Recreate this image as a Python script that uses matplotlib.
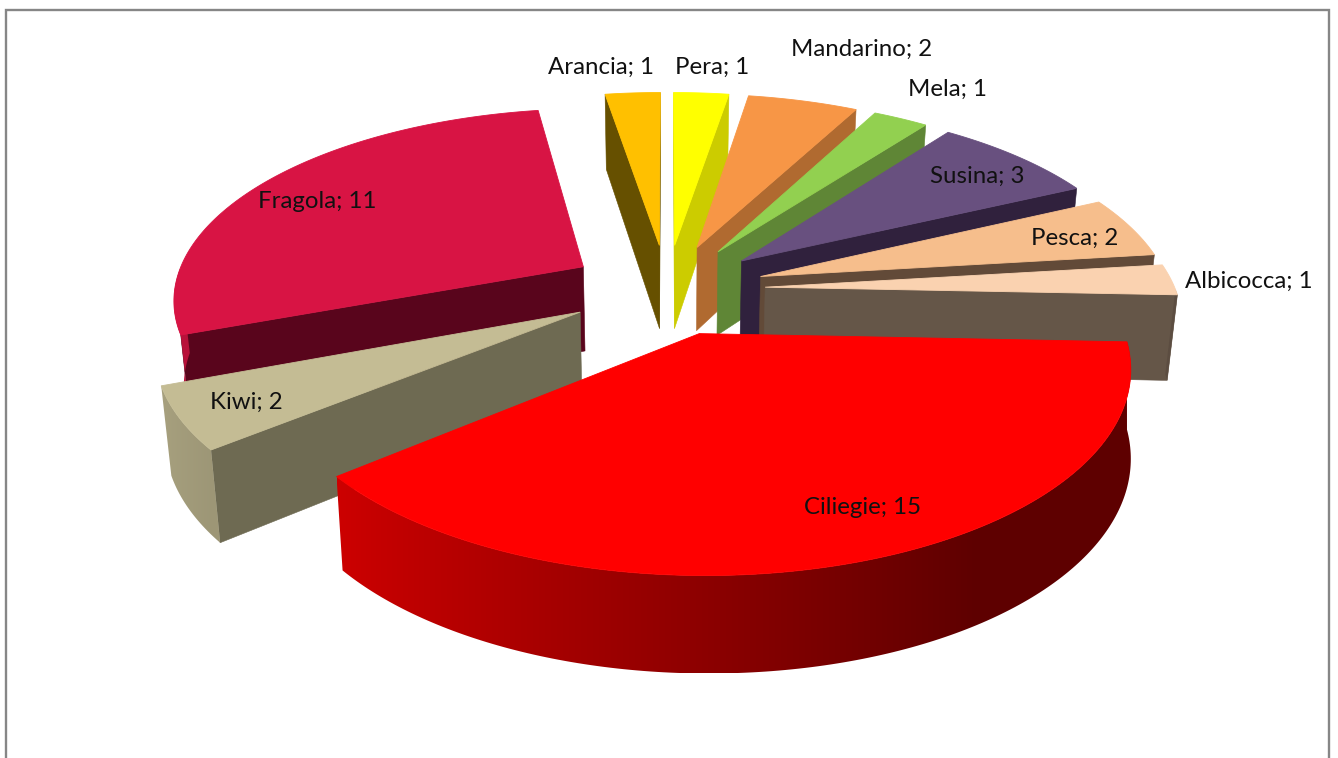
"""Exploded 3D pie of fruit counts, drawn by hand because the view has perspective."""
import matplotlib
matplotlib.use("Agg")
import matplotlib.pyplot as plt
import numpy as np
from matplotlib.patches import Rectangle
from matplotlib.path import Path

# data, clockwise from the top
fruits = ["Pera", "Mandarino", "Mela", "Susina", "Pesca", "Albicocca",
          "Ciliegie", "Kiwi", "Fragola", "Arancia"]
counts = [1, 2, 1, 3, 2, 1, 15, 2, 11, 1]

# colours: top surface, cut wall
top_colors = ["#FFFF00", "#F79646", "#92D050", "#68507F", "#F6BE8C", "#FAD2B0",
              "#FF0000", "#C4BC94", "#D81444", "#FFC000"]
wall_colors = ["#CCCC00", "#B06A30", "#5F8636", "#30213D", "#624A38", "#655648",
               "#7A0000", "#6E6A52", "#59051C", "#665000"]

# label centres in pixels
label_x = [712, 862, 947, 977, 1075, 1249, 863, 246, 317, 601]
label_y = [67, 49, 89, 176, 238, 281, 508, 402, 201, 67]

# view
CX, CY = 667, 289
F = 410          # px per radius at the pie centre
A = 189          # vertical px per radius of depth
B = 87           # px of thickness
K = 0.155        # perspective along depth
K_Z = 0.02       # perspective along height
EXPLODE = 0.24


def project(x, y, z, vx=CX, kz=K_Z):
    # vx, kz: where the vertical edges converge and how fast
    xs = CX + F * x / (1 + K * y)
    return vx + (xs - vx) * (1 + kz * z), CY - (A * y + B * z) / (1 + K * y - K_Z * z)


def poly(ax, pts, color, zorder, lw=0.4):
    xs = [p[0] for p in pts]
    ys = [p[1] for p in pts]
    ax.fill(xs, ys, facecolor=color, edgecolor=color, lw=lw, zorder=zorder)


def area(pts):
    pts = np.array(pts)
    x, y = pts[:, 0], pts[:, 1]
    return np.sum(x * np.roll(y, -1) - np.roll(x, -1) * y)


fig = plt.figure(figsize=(13.38, 7.58), dpi=100, facecolor="white")
ax = fig.add_axes([0, 0, 1, 1])
ax.set_xlim(0, 1338)
ax.set_ylim(758, 0)
ax.autoscale(False)
ax.axis("off")

ax.add_patch(Rectangle((5.8, 9.5), 1322.7, 800, facecolor="white",
                       edgecolor="#868686", lw=1.7, zorder=0))

total = sum(counts)
edges = np.concatenate([[0], np.cumsum(counts)]) * 2 * np.pi / total
mids = (edges[:-1] + edges[1:]) / 2

# paint back to front
order = np.argsort(-np.cos(mids))
z = 1
for i in order:
    t0, t1 = edges[i], edges[i + 1]
    ox, oy = EXPLODE * np.sin(mids[i]), EXPLODE * np.cos(mids[i])
    th = np.linspace(t0, t1, max(8, counts[i] * 12))
    rx, ry = ox + np.sin(th), oy + np.cos(th)

    # the big slice drops almost straight at its right end
    view = dict(vx=1135, kz=0.0076) if fruits[i] == "Ciliegie" else {}

    # cut walls, only the one that faces the viewer
    for t, sign in ((t0, -1), (t1, 1)):
        ex, ey = ox + np.sin(t), oy + np.cos(t)
        quad = [project(ox, oy, 0), project(ex, ey, 0),
                project(ex, ey, -1), project(ox, oy, -1)]
        if area(quad) * sign > 0:
            poly(ax, quad, wall_colors[i], z)
    z += 1

    # outer rim, front half only, shaded along x
    front = np.cos(th) < 0
    if front.sum() >= 2:
        top_edge = np.array([project(a, b, 0, **view) for a, b in zip(rx[front], ry[front])])
        bot_edge = np.array([project(a, b, -1, **view) for a, b in zip(rx[front], ry[front])])
        quads = [Path(np.vstack([top_edge[j], top_edge[j + 1], bot_edge[j + 1],
                                 bot_edge[j], top_edge[j]]), closed=True)
                 for j in range(len(top_edge) - 1)]
        pts = np.vstack([top_edge, bot_edge])
        xmin, xmax = pts[:, 0].min(), pts[:, 0].max()
        ymin, ymax = pts[:, 1].min(), pts[:, 1].max()
        f = np.clip(0.55 - 0.326 * np.sin(th[front]), 0.37, 0.86)
        srt = np.argsort(top_edge[:, 0])
        grid = np.linspace(xmin, xmax, 400)
        fx = np.interp(grid, top_edge[srt, 0], f[srt])
        rgb = np.array(matplotlib.colors.to_rgb(top_colors[i]))
        img = (fx[:, None] * rgb)[None, :, :]
        im = ax.imshow(img, extent=(xmin, xmax, ymax, ymin), aspect="auto",
                       interpolation="bilinear", zorder=z)
        im.set_clip_path(Path.make_compound_path(*quads), ax.transData)
    z += 1

    # top
    poly(ax, [project(ox, oy, 0)] + [project(a, b, 0) for a, b in zip(rx, ry)],
         top_colors[i], z, lw=0.6)
    z += 1

for name, n, lx, ly in zip(fruits, counts, label_x, label_y):
    ax.text(lx, ly, f"{name}; {n}", ha="center", va="center", fontsize=17.3,
            family="Lato", color="#111111", zorder=z)

fig.savefig("out.png", dpi=100, facecolor="white")
